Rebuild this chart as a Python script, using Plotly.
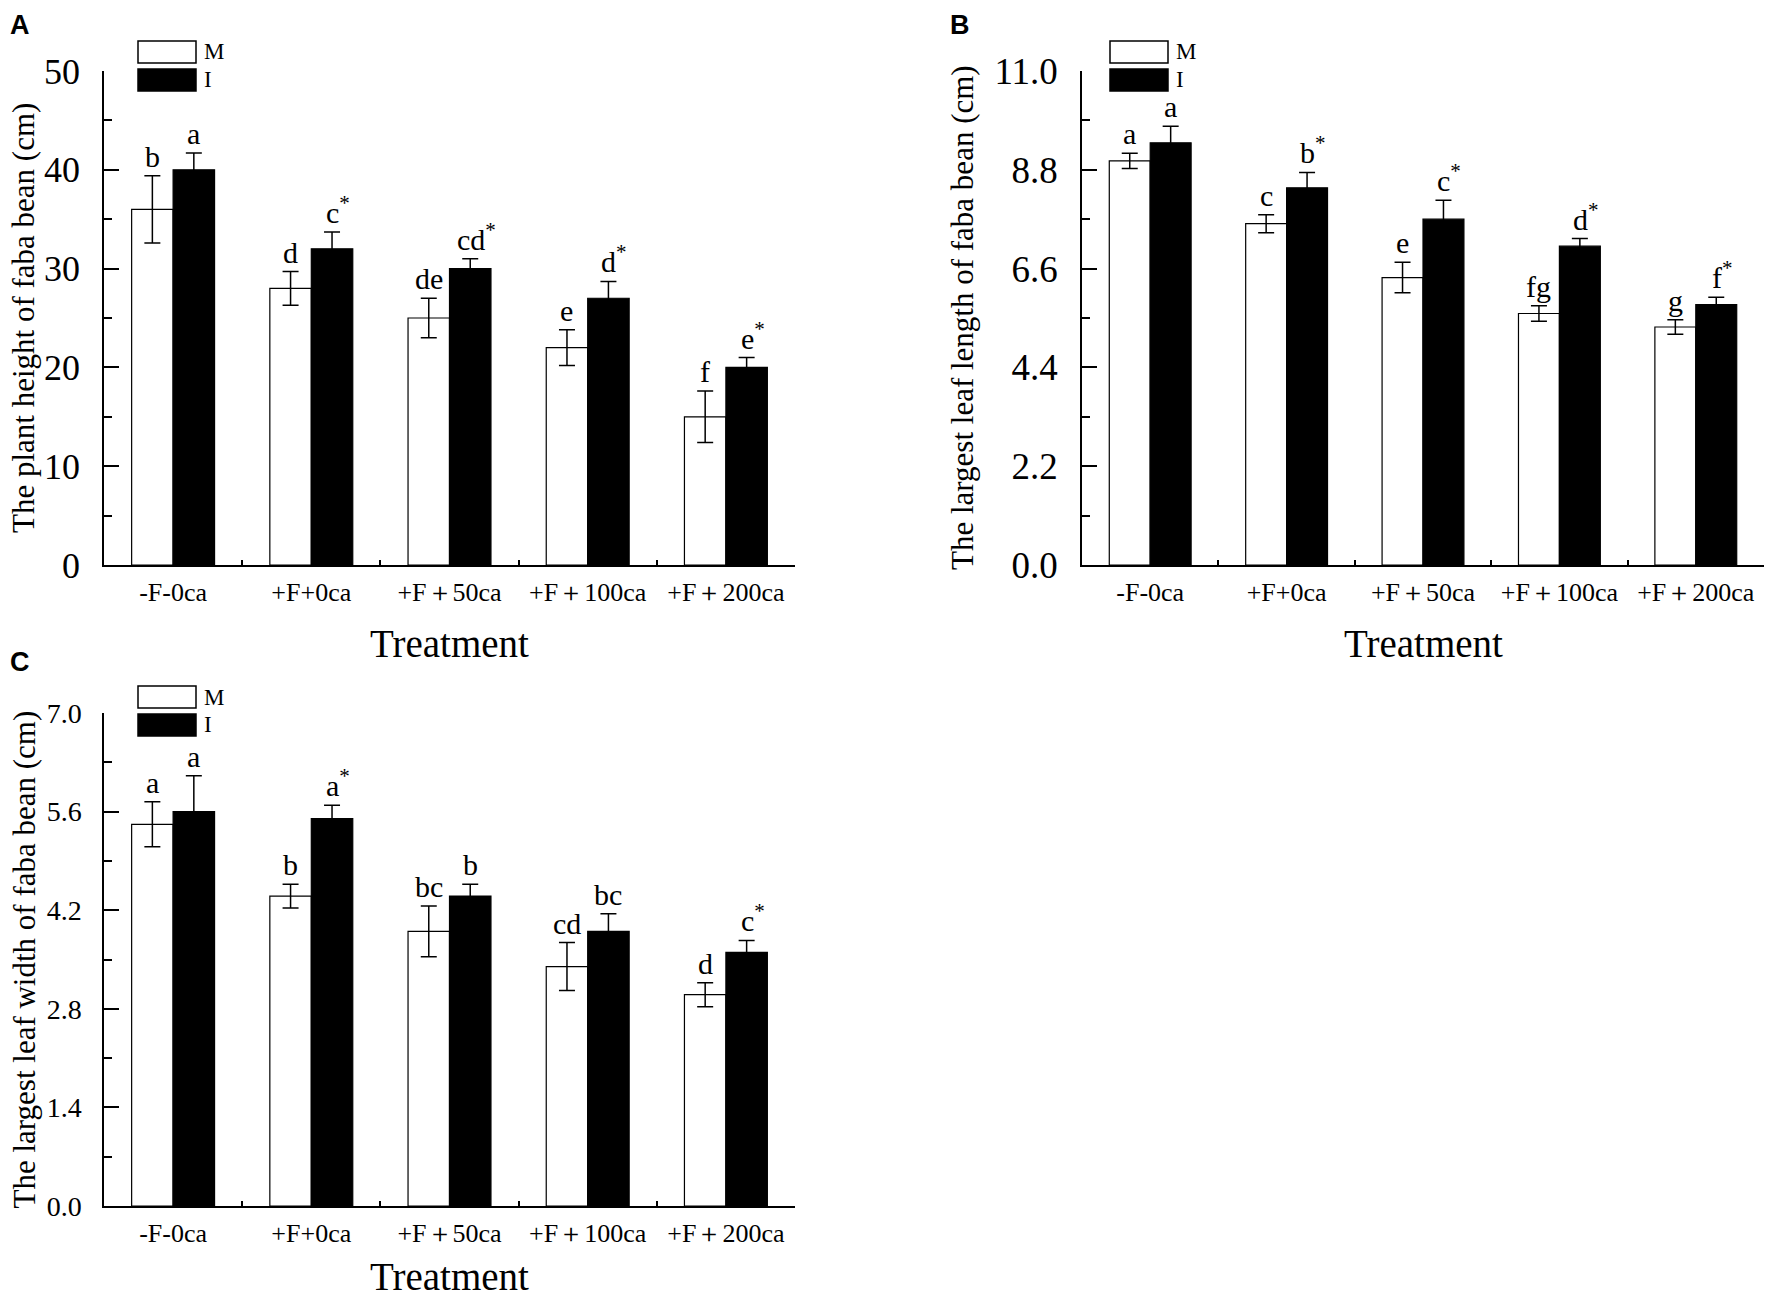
import plotly.graph_objects as go

W, H = 1772, 1307
OFF = 8  # the page keeps an 8 px body margin around the plot
FW, FH = W - 2 * OFF, H - 2 * OFF

TREATMENTS = ["-F-0ca", "+F+0ca", "+F＋50ca", "+F＋100ca", "+F＋200ca"]

# A: plant height (cm)
HEIGHT_M = [36.0, 28.0, 25.0, 22.0, 15.0]
HEIGHT_M_ERR = [3.4, 1.7, 2.0, 1.8, 2.6]
HEIGHT_I = [40.0, 32.0, 30.0, 27.0, 20.0]
HEIGHT_I_ERR = [1.7, 1.7, 1.0, 1.7, 1.0]
HEIGHT_M_LETTERS = ["b", "d", "de", "e", "f"]
HEIGHT_I_LETTERS = ["a", "c*", "cd*", "d*", "e*"]

# B: largest leaf length (cm)
LENGTH_M = [9.0, 7.6, 6.4, 5.6, 5.3]
LENGTH_M_ERR = [0.17, 0.2, 0.34, 0.17, 0.16]
LENGTH_I = [9.4, 8.4, 7.7, 7.1, 5.8]
LENGTH_I_ERR = [0.37, 0.34, 0.42, 0.17, 0.16]
LENGTH_M_LETTERS = ["a", "c", "e", "fg", "g"]
LENGTH_I_LETTERS = ["a", "b*", "c*", "d*", "f*"]

# C: largest leaf width (cm)
WIDTH_M = [5.42, 4.4, 3.9, 3.4, 3.0]
WIDTH_M_ERR = [0.32, 0.17, 0.36, 0.34, 0.17]
WIDTH_I = [5.6, 5.5, 4.4, 3.9, 3.6]
WIDTH_I_ERR = [0.51, 0.19, 0.17, 0.25, 0.17]
WIDTH_M_LETTERS = ["a", "b", "bc", "cd", "d"]
WIDTH_I_LETTERS = ["a", "a*", "b", "bc", "c*"]

SERIF = "Liberation Serif, Times New Roman, serif"


def px_x(p):
    return min(max((p - OFF) / FW, 0.0), 1.0)


def px_y(p):
    return min(max(1 - (p - OFF) / FH, 0.0), 1.0)


fig = go.Figure()


def letter_text(s):
    if s.endswith("*"):
        return s[:-1] + "<sup>*</sup>", 6
    return s, 0


def add_panel(n, m, m_err, i, i_err, m_let, i_let, ymax, dtick, tickfmt,
              tickfont, xdom, ydom, ytitle, ytitle_x, xtitle_y, tag, tag_xy,
              legend_px):
    xa = "x" if n == 1 else f"x{n}"
    ya = "y" if n == 1 else f"y{n}"
    err = dict(type="data", color="black", thickness=1.5, width=8)
    fig.add_trace(go.Bar(
        x=TREATMENTS, y=m, width=0.3, offset=-0.3,
        marker=dict(color="white", line=dict(color="black", width=1.2)),
        error_y=dict(array=m_err, **err), xaxis=xa, yaxis=ya, showlegend=False,
    ))
    fig.add_trace(go.Bar(
        x=TREATMENTS, y=i, width=0.3, offset=0.0,
        marker=dict(color="black", line=dict(color="black", width=1.2)),
        error_y=dict(array=i_err, **err), xaxis=xa, yaxis=ya, showlegend=False,
    ))
    # significance letters above the error bars
    for k in range(len(TREATMENTS)):
        for val, e, lab, dx in ((m[k], m_err[k], m_let[k], -0.15),
                                (i[k], i_err[k], i_let[k], 0.15)):
            txt, xs = letter_text(lab)
            fig.add_annotation(x=k + dx, y=val + e, xref=xa, yref=ya, text=txt,
                               showarrow=False, xanchor="center",
                               yanchor="bottom", xshift=xs, yshift=1,
                               font=dict(family=SERIF, size=30))
    axis_common = dict(showline=True, linecolor="black", linewidth=1.5,
                       showgrid=False, zeroline=False, mirror=False,
                       automargin=False)
    fig.update_layout({
        ("xaxis" if n == 1 else f"xaxis{n}"): dict(
            domain=xdom, anchor=ya, type="category", tickson="boundaries",
            ticks="inside", ticklen=5, tickwidth=1.5, tickcolor="black",
            tickfont=dict(family=SERIF, size=26), tickangle=0,
            ticklabelstandoff=3, range=[-0.5, 4.5], **axis_common),
        ("yaxis" if n == 1 else f"yaxis{n}"): dict(
            domain=ydom, anchor=xa, range=[0, ymax], tick0=0, dtick=dtick,
            tickformat=tickfmt, ticks="inside", ticklen=15, tickwidth=1.5,
            tickcolor="black", tickfont=dict(family=SERIF, size=tickfont),
            ticklabelstandoff=15,
            minor=dict(ticks="inside", ticklen=8, tickwidth=1.5,
                       tickcolor="black", dtick=dtick / 2, showgrid=False),
            **axis_common),
    })
    # y axis title
    fig.add_annotation(x=px_x(ytitle_x), y=(ydom[0] + ydom[1]) / 2, xref="paper",
                       yref="paper", text=ytitle, textangle=-90, showarrow=False,
                       xanchor="center", yanchor="middle",
                       font=dict(family=SERIF, size=31))
    # x axis title
    fig.add_annotation(x=(xdom[0] + xdom[1]) / 2, y=px_y(xtitle_y),
                       xref="paper", yref="paper", text="Treatment",
                       showarrow=False, xanchor="center", yanchor="middle",
                       font=dict(family=SERIF, size=39))
    # panel tag
    fig.add_annotation(x=px_x(tag_xy[0]), y=px_y(tag_xy[1]), xref="paper",
                       yref="paper", text=f"<b>{tag}</b>", showarrow=False,
                       xanchor="left", yanchor="top",
                       font=dict(family="Liberation Sans, Arial", size=27))
    # legend boxes
    lx, ly = legend_px
    for dy, fill, name in ((0, "white", "M"), (28, "black", "I")):
        fig.add_shape(type="rect", xref="paper", yref="paper",
                      x0=px_x(lx), x1=px_x(lx + 58), y0=px_y(ly + dy),
                      y1=px_y(ly + dy + 22), fillcolor=fill,
                      line=dict(color="black", width=1.5))
        fig.add_annotation(x=px_x(lx + 64), y=px_y(ly + dy + 11), xref="paper",
                           yref="paper", text=name, showarrow=False,
                           xanchor="left", yanchor="middle",
                           font=dict(family=SERIF, size=23))


Y_TOP = [px_y(565), px_y(71)]
Y_BOT = [px_y(1206), px_y(713)]
X_LEFT = [px_x(104), px_x(795)]
X_RIGHT = [px_x(1082), px_x(1771)]

add_panel(1, HEIGHT_M, HEIGHT_M_ERR, HEIGHT_I, HEIGHT_I_ERR, HEIGHT_M_LETTERS,
          HEIGHT_I_LETTERS, 50, 10, "d", 36, X_LEFT, Y_TOP,
          "The plant height of faba bean (cm)", 24, 643, "A", (8, 4), (138, 41))
add_panel(2, LENGTH_M, LENGTH_M_ERR, LENGTH_I, LENGTH_I_ERR, LENGTH_M_LETTERS,
          LENGTH_I_LETTERS, 11, 2.2, ".1f", 37, X_RIGHT, Y_TOP,
          "The largest leaf length of faba bean (cm)", 963, 643, "B", (948, 4),
          (1110, 41))
add_panel(3, WIDTH_M, WIDTH_M_ERR, WIDTH_I, WIDTH_I_ERR, WIDTH_M_LETTERS,
          WIDTH_I_LETTERS, 7, 1.4, ".1f", 28, X_LEFT, Y_BOT,
          "The largest leaf width of faba bean (cm)", 24, 1276, "C", (8, 645),
          (138, 686))

fig.update_layout(
    width=FW, height=FH, margin=dict(l=0, r=0, t=0, b=0),
    barmode="overlay", plot_bgcolor="white", paper_bgcolor="white",
    font=dict(family=SERIF, color="black"),
)

fig.write_html("out.html")
